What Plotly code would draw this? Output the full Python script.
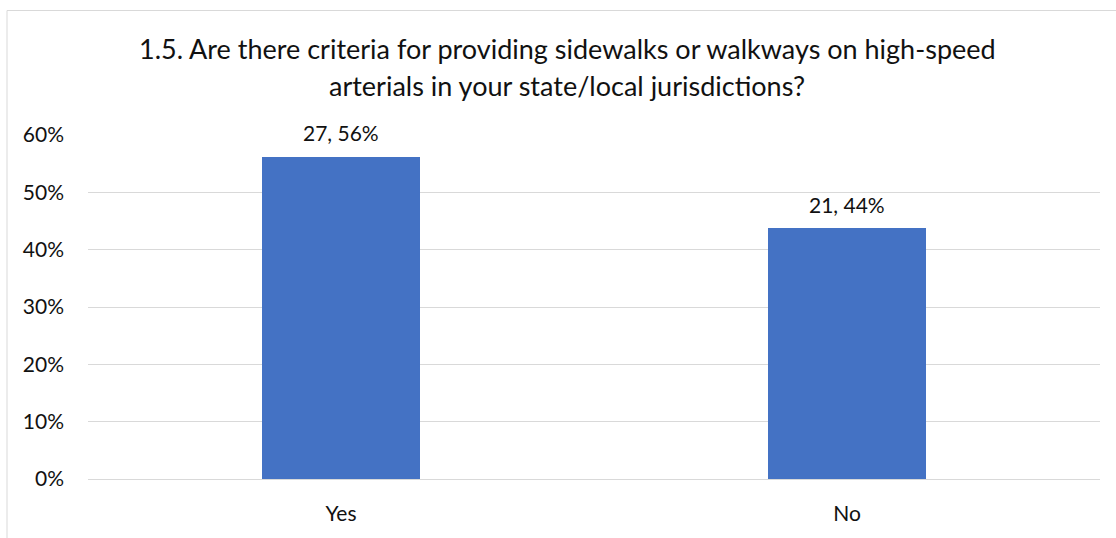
import plotly.graph_objects as go

# Survey responses for question 1.5
categories = ["Yes", "No"]
counts = [27, 21]
shares = [0.5625, 0.4375]
y_ticks = [0, 0.1, 0.2, 0.3, 0.4, 0.5, 0.6]
y_tick_labels = ["0%", "10%", "20%", "30%", "40%", "50%", "60%"]
title_lines = [
    "1.5. Are there criteria for providing sidewalks or walkways on high-speed",
    "arterials in your state/local jurisdictions?",
]

FONT = "Lato, 'Open Sans', sans-serif"
TEXT = "#111111"
GRID = "#d9d9d9"
BAR = "#4472c4"

W, H = 1116, 538
L, R, T, B = 88, 16, 135, 59
plot_w = W - L - R
plot_h = H - T - B


def px_x(px):
    return (px - L) / plot_w


def px_y(py):
    return (H - B - py) / plot_h


fig = go.Figure(
    go.Bar(
        x=categories,
        y=shares,
        width=0.312,
        marker=dict(color=BAR, line=dict(width=0)),
        hoverinfo="skip",
    )
)

annotations = []
# value labels above each bar: "count, percent"
for cat, n, s in zip(categories, counts, shares):
    annotations.append(
        dict(
            x=cat, y=s, xref="x", yref="y",
            text=f"{n}, {round(s * 100)}%",
            showarrow=False, yanchor="middle", yshift=24,
            font=dict(family=FONT, size=21, color=TEXT),
        )
    )

# two-line chart title
for line, py in zip(title_lines, [48, 86]):
    annotations.append(
        dict(
            x=px_x(567), y=px_y(py), xref="paper", yref="paper",
            text=line, showarrow=False, xanchor="center", yanchor="middle",
            font=dict(family=FONT, size=27, color=TEXT),
        )
    )

fig.update_layout(
    width=W,
    height=H,
    margin=dict(l=L, r=R, t=T, b=B, pad=0),
    paper_bgcolor="white",
    plot_bgcolor="white",
    showlegend=False,
    bargap=0,
    annotations=annotations,
    shapes=[
        # chart frame
        dict(
            type="rect", xref="paper", yref="paper",
            x0=px_x(7), x1=px_x(W + 10), y0=px_y(H + 10), y1=px_y(10.5),
            line=dict(color=GRID, width=1), fillcolor="rgba(0,0,0,0)",
            layer="below",
        )
    ],
    xaxis=dict(
        showgrid=False,
        showline=False,
        zeroline=False,
        ticks="",
        ticklabelstandoff=20,
        tickfont=dict(family=FONT, size=21, color=TEXT),
    ),
    yaxis=dict(
        range=[0, 0.6],
        tickvals=y_ticks,
        ticktext=y_tick_labels,
        showgrid=True,
        gridcolor=GRID,
        gridwidth=1,
        zeroline=True,
        zerolinecolor=GRID,
        zerolinewidth=1,
        showline=False,
        ticks="",
        ticklabelstandoff=23,
        tickfont=dict(family=FONT, size=21, color=TEXT),
    ),
)

fig.write_html("out.html")
